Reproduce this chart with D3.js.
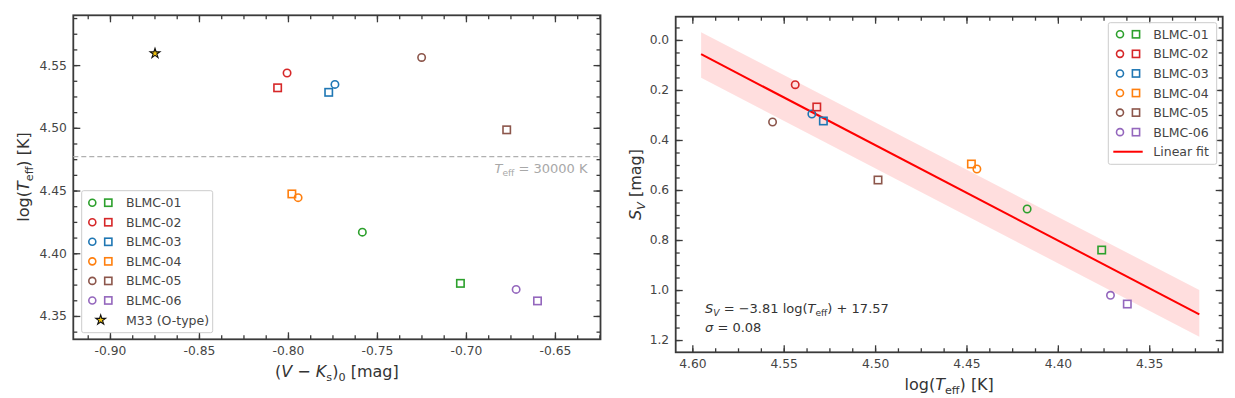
<!DOCTYPE html>
<html>
<head>
<meta charset="utf-8">
<script src="https://cdn.jsdelivr.net/npm/d3@7"></script>
<style>
  body { margin: 0; background: #fff; }
  text { font-family: 'DejaVu Sans', sans-serif; }
</style>
</head>
<body>
<svg width="1235" height="398"></svg>
<script>
const STARS = ['BLMC-01', 'BLMC-02', 'BLMC-03', 'BLMC-04', 'BLMC-05', 'BLMC-06'];
const COLORS = ['#2ca02c', '#d62728', '#1f77b4', '#ff7f0e', '#8c564b', '#9467bd'];

// (V-Ks)0 [mag] and log(Teff) [K], two estimates per star (circle / square)
const VK_CIRCLE = [-0.7582, -0.8005, -0.7736, -0.7943, -0.7249, -0.6718];
const VK_SQUARE = [-0.7031, -0.8058, -0.7771, -0.7978, -0.6771, -0.6598];
const LOGT_CIRCLE = [4.4168, 4.5437, 4.5346, 4.4443, 4.5561, 4.3712];
const LOGT_SQUARE = [4.3760, 4.5319, 4.5283, 4.4473, 4.4984, 4.3620];
// S_V [mag]
const SV_CIRCLE = [0.676, 0.179, 0.296, 0.516, 0.328, 1.021];
const SV_SQUARE = [0.840, 0.268, 0.324, 0.496, 0.560, 1.056];

const M33_VK = [-0.8747];
const M33_LOGT = [4.5593];
const LOGT_30000K = 4.4771;

// linear fit and its band
const FIT_LOGT = [4.5952, 4.3226];
const FIT_SV = [0.057, 1.097];
const FIT_SV_UPPER = [-0.031, 1.0];
const FIT_SV_LOWER = [0.151, 1.187];

const LEFT_X_TICKS = [-0.90, -0.85, -0.80, -0.75, -0.70, -0.65];
const LEFT_Y_TICKS = [4.35, 4.40, 4.45, 4.50, 4.55];
const RIGHT_X_TICKS = [4.60, 4.55, 4.50, 4.45, 4.40, 4.35];
const RIGHT_Y_TICKS = [0.0, 0.2, 0.4, 0.6, 0.8, 1.0, 1.2];

const svg = d3.select('svg');
const AXIS = '#3a3a3a';
const LABEL = '#444';

const minor = (domain, step) => {
    const lo = Math.min(...domain), hi = Math.max(...domain);
    const out = [];
    for (let i = Math.ceil(lo / step - 1e-9); i * step <= hi + 1e-9; i++) out.push(i * step);
    return out;
};

// text with italic / subscript parts: [string, 'i' | 'sub' | 'subi' | '']
function rich(g, parts, size) {
    let cur = 0;
    parts.forEach(([t, k]) => {
        const sub = k.includes('sub');
        const off = sub ? size * 0.25 : 0;
        g.append('tspan')
            .attr('dy', off - cur)
            .style('font-size', (sub ? size * 0.7 : size) + 'px')
            .style('font-style', k.includes('i') && k !== '' && k !== 'sub' ? 'italic' : 'normal')
            .text(t);
        cur = off;
    });
}

function panel(x, y, xTicks, yTicks, xStep, yStep, fmtX, fmtY) {
    const [x0, x1] = x.range();
    const [yb, yt] = [Math.max(...y.range()), Math.min(...y.range())];
    const g = svg.append('g');
    const hy = s => s.replace('\u2212', '-');

    const add = (axis, tr, values, size, fmt) => {
        const a = g.append('g').attr('transform', tr)
            .call(axis.tickValues(values).tickSize(-size).tickPadding(6.5)
                .tickFormat(fmt ? d => hy(fmt(d)) : ''));
        a.select('.domain').remove();
        a.selectAll('line').attr('stroke', AXIS).attr('stroke-width', 1.3);
        a.selectAll('text').attr('fill', LABEL).style('font-size', '12.3px').attr('font-family', null);
    };
    const xm = minor(x.domain(), xStep), ym = minor(y.domain(), yStep);
    add(d3.axisBottom(x), `translate(0,${yb})`, xm, 4);
    add(d3.axisTop(x), `translate(0,${yt})`, xm, 4);
    add(d3.axisLeft(y), `translate(${x0},0)`, ym, 4);
    add(d3.axisRight(y), `translate(${x1},0)`, ym, 4);
    add(d3.axisBottom(x), `translate(0,${yb})`, xTicks, 7, fmtX);
    add(d3.axisTop(x), `translate(0,${yt})`, xTicks, 7);
    add(d3.axisLeft(y), `translate(${x0},0)`, yTicks, 7, fmtY);
    add(d3.axisRight(y), `translate(${x1},0)`, yTicks, 7);

    g.append('rect')
        .attr('x', x0).attr('y', yt)
        .attr('width', x1 - x0).attr('height', yb - yt)
        .attr('fill', 'none').attr('stroke', AXIS).attr('stroke-width', 1.8);
    return g;
}

function circles(g, xs, ys, x, y) {
    g.selectAll(null).data(xs).enter().append('circle')
        .attr('cx', d => x(d))
        .attr('cy', (d, i) => y(ys[i]))
        .attr('r', 3.7)
        .attr('fill', 'none')
        .attr('stroke', (d, i) => COLORS[i])
        .attr('stroke-width', 1.6);
}

function squares(g, xs, ys, x, y) {
    g.selectAll(null).data(xs).enter().append('rect')
        .attr('x', d => x(d) - 3.7)
        .attr('y', (d, i) => y(ys[i]) - 3.7)
        .attr('width', 7.4).attr('height', 7.4)
        .attr('fill', 'none')
        .attr('stroke', (d, i) => COLORS[i])
        .attr('stroke-width', 1.6);
}

function legend(gx, gy, w, h, cx, sx, tx, rowY, rowH, extra) {
    const g = svg.append('g');
    g.append('rect').attr('x', gx).attr('y', gy).attr('width', w).attr('height', h)
        .attr('rx', 2).attr('fill', 'rgba(255,255,255,0.85)').attr('stroke', '#cccccc').attr('stroke-width', 1);
    STARS.forEach((s, i) => {
        const yy = rowY + i * rowH;
        g.append('circle').attr('cx', cx).attr('cy', yy).attr('r', 3.5)
            .attr('fill', 'none').attr('stroke', COLORS[i]).attr('stroke-width', 1.6);
        g.append('rect').attr('x', sx - 3.6).attr('y', yy - 3.6).attr('width', 7.2).attr('height', 7.2)
            .attr('fill', 'none').attr('stroke', COLORS[i]).attr('stroke-width', 1.6);
        g.append('text').attr('x', tx).attr('y', yy).attr('dy', '0.36em')
            .attr('fill', LABEL).style('font-size', '12.5px').text(s);
    });
    extra(g, rowY + STARS.length * rowH);
}

// ---------- left panel ----------
const xL = d3.scaleLinear().domain([-0.9206, -0.6244]).range([73.3, 600.5]);
const yL = d3.scaleLinear().domain([4.3314, 4.5897]).range([339.3, 15.3]);
const gL = panel(xL, yL, LEFT_X_TICKS, LEFT_Y_TICKS, 0.0125, 0.0125, d3.format('.2f'), d3.format('.2f'));

gL.append('line')
    .attr('x1', xL.range()[0]).attr('x2', xL.range()[1])
    .attr('y1', yL(LOGT_30000K)).attr('y2', yL(LOGT_30000K))
    .attr('stroke', '#b0b0b0').attr('stroke-width', 1.3).attr('stroke-dasharray', '5,3');
rich(gL.append('text').attr('x', 587.5).attr('y', 172.5).attr('text-anchor', 'end').attr('fill', '#a8a8a8'),
    [['T', 'i'], ['eff', 'sub'], [' = 30000 K', '']], 13);

circles(gL, VK_CIRCLE, LOGT_CIRCLE, xL, yL);
squares(gL, VK_SQUARE, LOGT_SQUARE, xL, yL);
const star = d3.symbol().type(d3.symbolStar).size(30);
gL.selectAll(null).data(M33_VK).enter().append('path')
    .attr('d', star)
    .attr('transform', (d, i) => `translate(${xL(d)},${yL(M33_LOGT[i])})`)
    .attr('fill', '#f2c40f').attr('stroke', '#111').attr('stroke-width', 1.1);

legend(81.7, 190.7, 131, 142, 92.3, 108.3, 126, 202.7, 19.55, (g, yy) => {
    g.append('path').attr('d', star).attr('transform', `translate(100.7,${yy})`)
        .attr('fill', '#f2c40f').attr('stroke', '#111').attr('stroke-width', 1.1);
    g.append('text').attr('x', 126).attr('y', yy).attr('dy', '0.36em')
        .attr('fill', LABEL).style('font-size', '12.5px').text('M33 (O-type)');
});

rich(svg.append('text').attr('x', 336.9).attr('y', 376.5).attr('text-anchor', 'middle').attr('fill', '#333'),
    [['(', ''], ['V', 'i'], [' \u2212 ', ''], ['K', 'i'], ['s', 'sub'], [')', ''], ['0', 'sub'], [' [mag]', '']], 16);
rich(svg.append('text').attr('transform', 'translate(29,177) rotate(-90)').attr('text-anchor', 'middle').attr('fill', '#333'),
    [['log(', ''], ['T', 'i'], ['eff', 'sub'], [') [K]', '']], 16);

// ---------- right panel ----------
const xR = d3.scaleLinear().domain([4.6091, 4.3098]).range([675.7, 1222.7]);
const yR = d3.scaleLinear().domain([-0.093, 1.249]).range([16.7, 352.3]);
const gR = panel(xR, yR, RIGHT_X_TICKS, RIGHT_Y_TICKS, 0.0125, 0.05, d3.format('.2f'), d3.format('.1f'));

const band = d3.area()
    .x(d => xR(d))
    .y0((d, i) => yR(FIT_SV_UPPER[i]))
    .y1((d, i) => yR(FIT_SV_LOWER[i]));
gR.append('path').attr('d', band(FIT_LOGT)).attr('fill', '#ff0000').attr('fill-opacity', 0.13);
gR.append('path')
    .attr('d', d3.line().x(d => xR(d)).y((d, i) => yR(FIT_SV[i]))(FIT_LOGT))
    .attr('fill', 'none').attr('stroke', '#ff0000').attr('stroke-width', 2);

circles(gR, LOGT_CIRCLE, SV_CIRCLE, xR, yR);
squares(gR, LOGT_SQUARE, SV_SQUARE, xR, yR);

legend(1108.3, 22.7, 108.4, 141.6, 1120, 1136, 1153.3, 34.3, 19.57, (g, yy) => {
    g.append('line').attr('x1', 1113.3).attr('x2', 1142.7).attr('y1', yy).attr('y2', yy)
        .attr('stroke', '#ff0000').attr('stroke-width', 2);
    g.append('text').attr('x', 1153.3).attr('y', yy).attr('dy', '0.36em')
        .attr('fill', LABEL).style('font-size', '12.5px').text('Linear fit');
});

rich(gR.append('text').attr('x', 705).attr('y', 313).attr('fill', '#333'),
    [['S', 'i'], ['V', 'subi'], [' = \u22123.81 log(', ''], ['T', 'i'], ['eff', 'sub'], [') + 17.57', '']], 13);
rich(gR.append('text').attr('x', 705).attr('y', 331.5).attr('fill', '#333'),
    [['\u03c3', 'i'], [' = 0.08', '']], 13);

rich(svg.append('text').attr('x', 949.2).attr('y', 390).attr('text-anchor', 'middle').attr('fill', '#333'),
    [['log(', ''], ['T', 'i'], ['eff', 'sub'], [') [K]', '']], 16);
rich(svg.append('text').attr('transform', 'translate(641,184.5) rotate(-90)').attr('text-anchor', 'middle').attr('fill', '#333'),
    [['S', 'i'], ['V', 'subi'], [' [mag]', '']], 16);
</script>
</body>
</html>
